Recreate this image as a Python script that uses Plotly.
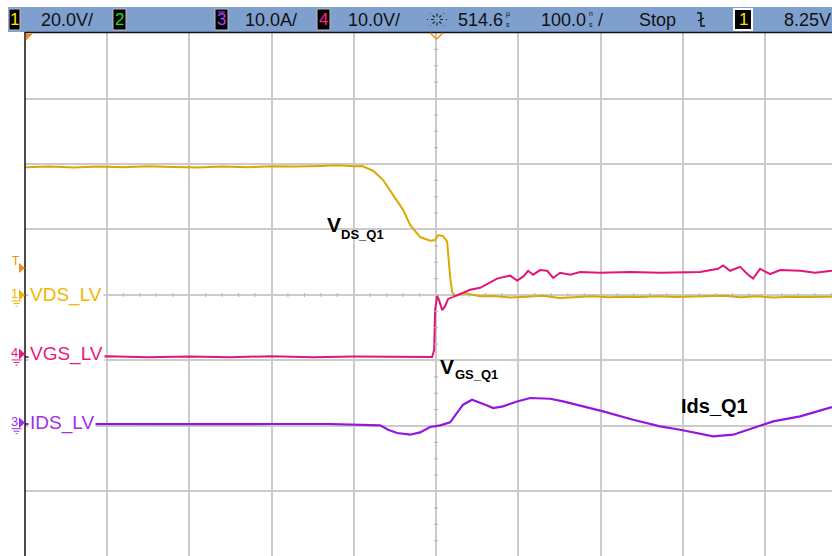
import math
import plotly.graph_objects as go

# ---------------- acquisition settings ----------------
T_LEFT, T_RIGHT = -499.5, 481.0      # visible time window, ns relative to screen centre (514.6 us)
T_DIV = 100.0                        # 100.0 ns/div
DIV_TOP, DIV_BOT = 4.0, -3.985       # visible vertical span in divisions

VDS_SCALE, VDS_GND = 20.0, 0.0       # ch1: V/div, ground marker (div)
VGS_SCALE, VGS_GND = 10.0, -0.9      # ch4
IDS_SCALE, IDS_GND = 10.0, -1.95     # ch3
TRIG_LEVEL = 8.25                    # V on ch1

# ---------------- waveforms ----------------
vds_t = [-499, -470, -440, -410, -380, -350, -320, -290, -260, -230, -200, -170, -140,
         -120, -100, -90, -76.5, -64.4, -52.2, -40.1, -31.6, -19.4, -7.3, -1.2, 2.4,
         8.5, 13.4, 14.6, 17.0, 19.4, 23.1, 35.2, 53.5, 70, 90, 110, 130, 150, 170,
         190, 210, 230, 250, 270, 290, 310, 330, 350, 370, 390, 410, 430, 450, 481]
vds_v = [39.0, 39.2, 38.9, 39.2, 39.0, 39.3, 39.1, 38.9, 39.2, 39.0, 39.3, 39.2, 39.4,
         39.6, 39.3, 39.4, 37.95, 35.1, 30.5, 26.0, 21.4, 17.7, 16.6, 16.8, 18.3,
         18.0, 16.3, 11.7, 5.6, 1.0, -0.3, 0.5, -0.4, -0.3, -0.8, -0.5, -0.2, -0.9, -0.6,
         -0.4, -0.7, -0.5, -0.6, -0.4, -0.6, -0.5, -0.3, -0.2, -0.7, -0.4, -0.8, -0.5, -0.6, -0.5]

vgs_t = [-499, -450, -400, -350, -300, -250, -200, -150, -100, -50, -4.9, -2.4, -1.2,
         1.2, 3.6, 7.3, 10.9, 14.6, 23.1, 31.6, 41.3, 53.5, 65.6, 74.1, 83.8, 89.9, 98.4,
         105.7, 111.8, 117.9, 126.4, 134.9, 142.2, 150.7, 162.8, 175.0, 199.3, 235.7,
         272.2, 320.8, 342.6, 348.7, 357.2, 369.4, 379.1, 385.2, 393.7, 405.8, 418.0,
         442.3, 460.5, 481]
vgs_v = [-0.45, -0.5, -0.35, -0.5, -0.4, -0.5, -0.35, -0.5, -0.4, -0.45, -0.46, 0.6, 6.7,
         8.85, 8.2, 6.7, 7.3, 8.4, 8.85, 9.2, 9.8, 10.1, 10.9, 11.5, 11.8, 11.95, 11.2,
         11.8, 12.7, 12.1, 12.8, 12.7, 11.6, 12.4, 12.1, 12.5, 12.4, 12.5,
         12.4, 12.5, 13.0, 13.5, 12.7, 13.3, 12.1, 11.5, 13.0, 12.2, 12.8,
         12.7, 12.4, 12.7]

ids_t = [-499, -420, -350, -286.8, -200, -128.8, -68.0, -58.3, -47.4, -31.6, -19.4, -7.3,
         4.9, 17.0, 26.7, 32.8, 43.7, 49.8, 62.0, 69.3, 81.4, 98.4, 114.2, 138.5, 154.3,
         178.6, 202.9, 239.4, 272.2, 296.5, 320.8, 336.6, 360.9, 385.2, 409.5, 442.3, 481]
ids_a = [-0.2, -0.25, -0.2, -0.23, -0.2, -0.2, -0.41, -1.07, -1.57, -1.83, -1.48, -0.66,
         -0.41, 0.05, 1.73, 2.75, 3.51, 3.25, 2.64, 2.24, 2.49, 3.25, 3.77, 3.66, 3.25,
         2.49, 1.73, 0.46, -0.56, -1.07, -1.73, -2.09, -1.83, -0.81, 0.2, 0.96, 2.4]

# ---------------- styling ----------------
W, H = 832, 556
L, T = 25, 33
VDS_COLOR, VDS_LABEL = "#d9a900", "#f2b600"
VGS_COLOR, VGS_LABEL = "#e0157a", "#e8197d"
IDS_COLOR, IDS_LABEL = "#9416dc", "#a02ee6"
GRID = "#cbcbcb"
BAR = "#7f9fcf"
ORANGE = "#f08c1e"
PX_PER_DIV_Y = (H - T) / (DIV_TOP - DIV_BOT)
PX_PER_NS = (W - L) / (T_RIGHT - T_LEFT)


def px(x):
    return (x - L) / (W - L)


def py(y):
    return (H - y) / (H - T)


def yrange(scale, gnd):
    return [(DIV_BOT - gnd) * scale, (DIV_TOP - gnd) * scale]


fig = go.Figure()
fig.add_trace(go.Scatter(x=ids_t, y=ids_a, yaxis="y3", mode="lines",
                         line=dict(color=IDS_COLOR, width=2.2), hoverinfo="skip"))
fig.add_trace(go.Scatter(x=vgs_t, y=vgs_v, yaxis="y2", mode="lines",
                         line=dict(color=VGS_COLOR, width=2), hoverinfo="skip"))
fig.add_trace(go.Scatter(x=vds_t, y=vds_v, yaxis="y", mode="lines",
                         line=dict(color=VDS_COLOR, width=2), hoverinfo="skip"))

shapes = []
annotations = []

# minor ticks on the centre cross-hair
v_tick = 2.0 / PX_PER_DIV_Y * VDS_SCALE
h_tick = 2.0 / PX_PER_NS
for k in range(-25, 26):
    if k % 5:
        t = k * T_DIV / 5
        shapes.append(dict(type="line", xref="x", yref="y", x0=t, x1=t, y0=-v_tick, y1=v_tick,
                           line=dict(color="#b4b4b4", width=1)))
for j in range(-16, 17):
    if j % 4:
        v = j * VDS_SCALE / 4
        shapes.append(dict(type="line", xref="x", yref="y", x0=-h_tick, x1=h_tick, y0=v, y1=v,
                           line=dict(color="#b4b4b4", width=1)))

# status bar
shapes.append(dict(type="rect", xref="paper", yref="paper", x0=px(8), x1=px(832), y0=py(32), y1=py(7),
                   fillcolor=BAR, line=dict(width=0), layer="below"))
# graticule frame (top + left)
shapes.append(dict(type="line", xref="paper", yref="paper", x0=px(25), x1=px(832), y0=py(32.5), y1=py(32.5),
                   line=dict(color="#111111", width=1.5)))
shapes.append(dict(type="line", xref="paper", yref="paper", x0=px(25), x1=px(25), y0=py(32), y1=py(556),
                   line=dict(color="#111111", width=1.5)))


# channel boxes in the status bar
def chan_box(x0, x1, label, color, border="#bdbdbd", bw=1):
    shapes.append(dict(type="rect", xref="paper", yref="paper", x0=px(x0), x1=px(x1), y0=py(30), y1=py(9),
                       fillcolor="#000000", line=dict(color=border, width=bw)))
    annotations.append(dict(xref="paper", yref="paper", x=px((x0 + x1) / 2), y=py(19.5), text=label,
                            showarrow=False, xanchor="center", yanchor="middle",
                            font=dict(family="Liberation Sans", size=17, color=color)))


chan_box(9, 20, "1", "#f5e600")
chan_box(113, 126, "2", "#22dd22")
chan_box(215, 228, "3", "#b040ff")
shapes.append(dict(type="line", xref="paper", yref="paper", x0=px(218), x1=px(225), y0=py(12), y1=py(12),
                   line=dict(color="#b040ff", width=1)))
chan_box(317, 330, "4", "#ff2090")
chan_box(734, 752, "1", "#f5e600", border="#ffffff", bw=2)


def bar_text(x, text, size=18, anchor="center", y=19.5, pad=1):
    annotations.append(dict(xref="paper", yref="paper", x=px(x), y=py(y), text=text, showarrow=False,
                            xanchor=anchor, yanchor="middle", borderpad=pad,
                            font=dict(family="Liberation Sans", size=size, color="#111111")))


bar_text(67, "20.0V/")
bar_text(271, "10.0A/")
bar_text(374, "10.0V/")
bar_text(505, "514.6", anchor="right")
# stacked unit glyphs (one above the other)
bar_text(508, "\u00b5", size=7, y=13.5, pad=0)
bar_text(508, "s", size=7, y=24.5, pad=0)
bar_text(588, "100.0", anchor="right")
bar_text(591, "n", size=7, y=13.5, pad=0)
bar_text(591, "s", size=7, y=24.5, pad=0)
bar_text(600, "/")
bar_text(657, "Stop")
bar_text(807, "8.25V")

# acquisition (run/stop) star icon
for a in range(8):
    ang = a * math.pi / 4
    shapes.append(dict(type="line", xref="paper", yref="paper",
                       x0=px(437 + 3 * math.cos(ang)), x1=px(437 + 10 * math.cos(ang)),
                       y0=py(19.5 - 3 * math.sin(ang)), y1=py(19.5 - 9 * math.sin(ang)),
                       line=dict(color="#222222", width=1.2, dash="dot")))

# trigger edge symbol
shapes.append(dict(type="path", xref="paper", yref="paper",
                   path=f"M {px(697)} {py(13)} L {px(701)} {py(13)} L {px(701)} {py(26)} L {px(705)} {py(26)}",
                   line=dict(color="#111111", width=1.5)))
shapes.append(dict(type="line", xref="paper", yref="paper", x0=px(698), x1=px(704), y0=py(21), y1=py(18),
                   line=dict(color="#111111", width=1.2)))

# trigger position marker and corner marker
shapes.append(dict(type="path", xref="paper", yref="paper",
                   path=f"M {px(430)} {py(33)} L {px(436.5)} {py(39)} L {px(443)} {py(33)}",
                   line=dict(color=ORANGE, width=1.5)))
shapes.append(dict(type="path", xref="paper", yref="paper",
                   path=f"M {px(26)} {py(33.5)} L {px(33)} {py(33.5)} L {px(26)} {py(40.5)} Z",
                   fillcolor=ORANGE, line=dict(width=0)))


# channel ground markers on the left edge
def gnd_marker(y, label, color):
    annotations.append(dict(xref="paper", yref="paper", x=px(14), y=py(y - 1), text=label, showarrow=False,
                            xanchor="center", yanchor="middle",
                            font=dict(family="Liberation Sans", size=13, color=color)))
    shapes.append(dict(type="path", xref="paper", yref="paper",
                       path=f"M {px(19)} {py(y - 5.5)} L {px(25)} {py(y)} L {px(19)} {py(y + 5.5)} Z",
                       fillcolor=color, line=dict(width=0)))
    for dy, half in ((6, 5), (8.5, 3), (11, 1)):
        shapes.append(dict(type="line", xref="paper", yref="paper", x0=px(16.5 - half), x1=px(16.5 + half),
                           y0=py(y + dy), y1=py(y + dy), line=dict(color=color, width=1)))


def gnd_y(gnd):
    return T + (DIV_TOP - gnd) * PX_PER_DIV_Y


gnd_marker(gnd_y(VDS_GND), "1", VDS_LABEL)
gnd_marker(gnd_y(VGS_GND), "4", VGS_LABEL)
gnd_marker(gnd_y(IDS_GND), "3", IDS_LABEL)

trig_y = gnd_y(VDS_GND) - TRIG_LEVEL / VDS_SCALE * PX_PER_DIV_Y
annotations.append(dict(xref="paper", yref="paper", x=px(16), y=py(trig_y - 7), text="T", showarrow=False,
                        xanchor="center", yanchor="middle",
                        font=dict(family="Liberation Sans", size=12, color=ORANGE)))
shapes.append(dict(type="path", xref="paper", yref="paper",
                   path=f"M {px(19)} {py(trig_y - 5)} L {px(25)} {py(trig_y)} L {px(19)} {py(trig_y + 5)} Z",
                   fillcolor=ORANGE, line=dict(width=0)))

# channel labels
for name, g, col in (("VDS_LV", VDS_GND, VDS_LABEL), ("VGS_LV", VGS_GND, VGS_LABEL), ("IDS_LV", IDS_GND, IDS_LABEL)):
    annotations.append(dict(xref="paper", yref="paper", x=px(28), y=py(gnd_y(g)), text=name, showarrow=False,
                            xanchor="left", yanchor="middle", bgcolor="#ffffff", borderpad=1,
                            font=dict(family="Liberation Sans", size=19, color=col)))


# waveform call-outs
def callout(x, y, text, size):
    annotations.append(dict(xref="paper", yref="paper", x=px(x), y=py(y), text=text, showarrow=False,
                            xanchor="left", yanchor="middle",
                            font=dict(family="Liberation Sans", size=size, color="#000000", weight="bold")))


callout(325, 224, "V", 21)
callout(339, 234, "DS_Q1", 13)
callout(438, 366, "V", 21)
callout(453, 374, "GS_Q1", 13)
callout(679, 406, "Ids_Q1", 20)

fig.update_layout(
    width=W, height=H,
    margin=dict(l=L, r=0, t=T, b=0),
    paper_bgcolor="#ffffff", plot_bgcolor="#ffffff",
    showlegend=False,
    xaxis=dict(range=[T_LEFT, T_RIGHT], tick0=0, dtick=T_DIV, showgrid=True, gridcolor=GRID, gridwidth=1.5,
               zeroline=False, showticklabels=False, ticks="", showline=False, fixedrange=True),
    yaxis=dict(range=yrange(VDS_SCALE, VDS_GND), tick0=0, dtick=VDS_SCALE, showgrid=True, gridcolor=GRID,
               gridwidth=1.5, zeroline=False, showticklabels=False, ticks="", showline=False, fixedrange=True),
    yaxis2=dict(range=yrange(VGS_SCALE, VGS_GND), overlaying="y", visible=False, fixedrange=True),
    yaxis3=dict(range=yrange(IDS_SCALE, IDS_GND), overlaying="y", visible=False, fixedrange=True),
    shapes=shapes,
    annotations=annotations,
)

fig.write_html("out.html")
